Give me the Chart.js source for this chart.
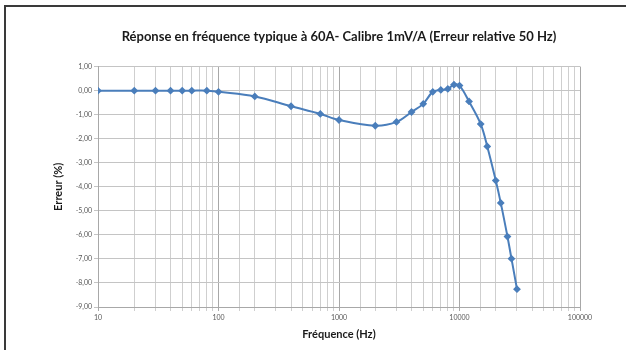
<!DOCTYPE html>
<html>
<head>
<meta charset="utf-8">
<script src="https://cdn.jsdelivr.net/npm/chart.js@4"></script>
<style>
  html, body { margin: 0; padding: 0; background: #fff; overflow: hidden; }
  #wrap { position: relative; width: 626px; height: 350px; }
  #frame { position: absolute; left: 4px; top: 5px; width: 700px; height: 400px;
           border-left: 2px solid #3a3a3a; border-top: 2px solid #3a3a3a; pointer-events: none; }
</style>
</head>
<body>
<div id="wrap">
  <canvas id="freqChart" width="626" height="350"></canvas>
  <div id="frame"></div>
</div>
<script>
const frequencies = [10, 20, 30, 40, 50, 60, 80, 100, 200, 400, 700, 1000, 2000, 3000, 4000,
  5000, 6000, 7000, 8000, 9000, 10000, 12000, 15000, 17000, 20000, 22000, 25000, 27000, 30000];
const errors = [0, 0, 0, 0, 0, 0, 0, -0.05, -0.24, -0.65, -0.97, -1.22, -1.46, -1.30, -0.89,
  -0.55, -0.05, 0.03, 0.07, 0.25, 0.21, -0.45, -1.39, -2.32, -3.74, -4.67, -6.07, -6.99, -8.26];
const xTickLabels = ['10', '100', '1000', '10000', '100000'];
const yMin = -9;
const yMax = 1;

const chartTitle = 'Réponse en fréquence typique à 60A- Calibre 1mV/A (Erreur relative 50 Hz)';
const xTitle = 'Fréquence (Hz)';
const yTitle = 'Erreur (%)';

const lineColor = '#4a7ebb';
const fontFamily = 'Lato, "Open Sans", sans-serif';

function isDecade(v) {
  const e = Math.log10(v);
  return Math.abs(e - Math.round(e)) < 1e-9;
}

const ctx = document.getElementById('freqChart');
new Chart(ctx, {
  type: 'line',
  data: {
    datasets: [{
      label: yTitle,
      data: frequencies.map((f, i) => ({ x: f, y: errors[i] })),
      borderColor: lineColor,
      backgroundColor: lineColor,
      borderWidth: 2,
      pointStyle: 'rectRot',
      pointRadius: 2.5,
      pointHoverRadius: 2.5,
      tension: 0.35,
      fill: false
    }]
  },
  options: {
    responsive: false,
    animation: false,
    layout: { padding: { left: 50, right: 46, top: 0, bottom: 0 } },
    plugins: {
      legend: { display: false },
      tooltip: { enabled: false },
      title: {
        display: true,
        fullSize: false,
        text: chartTitle,
        color: '#1a1a1a',
        font: { family: fontFamily, size: 13, weight: 'bold' },
        padding: { top: 29, bottom: 22 }
      }
    },
    scales: {
      x: {
        type: 'logarithmic',
        min: 10,
        max: 100000,
        afterFit: (scale) => { scale.height = 43; },
        grid: {
          color: (c) => (c.tick && isDecade(c.tick.value)) ? '#a8a8a8' : '#cfcfcf',
          lineWidth: 1,
          tickLength: 4
        },
        border: { color: '#a8a8a8' },
        ticks: {
          autoSkip: false,
          maxRotation: 0,
          padding: 3,
          color: '#595959',
          font: { family: fontFamily, size: 7 },
          callback: (v) => {
            if (!isDecade(v)) return '';
            const idx = Math.round(Math.log10(v)) - 1;
            return xTickLabels[idx] ?? '';
          }
        },
        title: {
          display: true,
          text: xTitle,
          color: '#1a1a1a',
          font: { family: fontFamily, size: 11, weight: 'bold' },
          padding: { top: 2, bottom: 9 }
        }
      },
      y: {
        min: yMin,
        max: yMax,
        afterFit: (scale) => { scale.width = 48; },
        grid: { color: '#c4c4c4', lineWidth: 1, tickLength: 4 },
        border: { color: '#a8a8a8' },
        ticks: {
          stepSize: 1,
          padding: 2,
          color: '#595959',
          font: { family: fontFamily, size: 7 },
          callback: (v) => v.toFixed(2).replace('.', ',')
        },
        title: {
          display: true,
          text: yTitle,
          color: '#1a1a1a',
          font: { family: fontFamily, size: 11, weight: 'bold' },
          padding: { top: 2, bottom: 2 }
        }
      }
    }
  }
});
</script>
</body>
</html>
